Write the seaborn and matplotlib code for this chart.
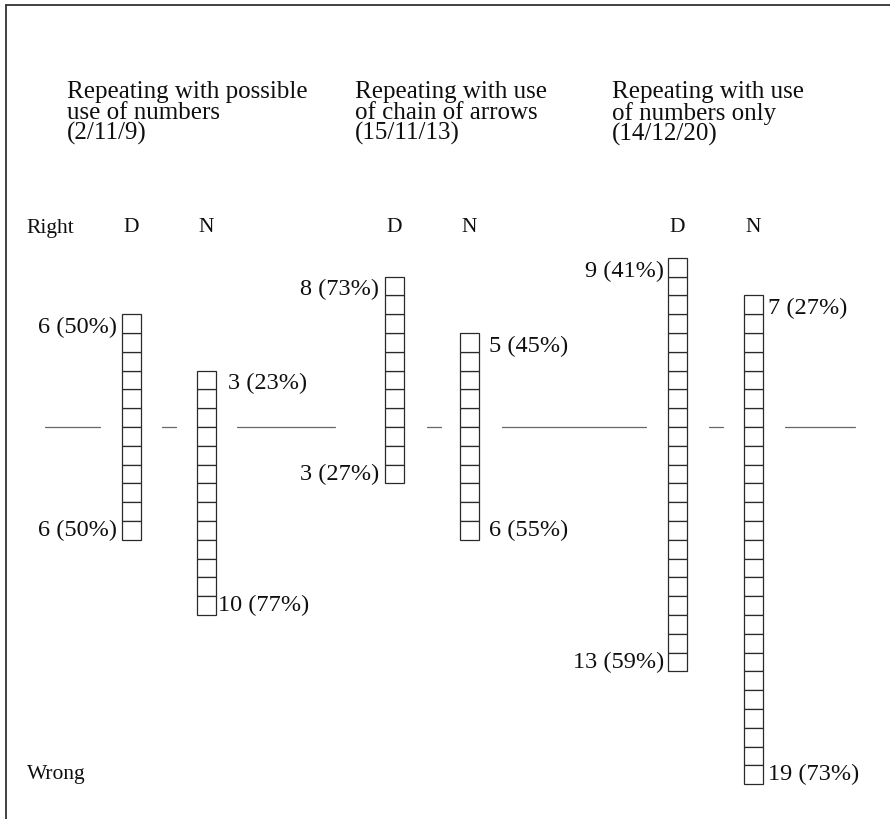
import numpy as np
import pandas as pd
import matplotlib
matplotlib.use("Agg")
import matplotlib.pyplot as plt
import seaborn as sns

# Task groups and the counts of right / wrong answers for the D and N groups
tasks = [
    "Repeating with possible\nuse of numbers\n(2/11/9)",
    "Repeating with use\nof chain of arrows\n(15/11/13)",
    "Repeating with use\nof numbers only\n(14/12/20)",
]
groups = ["D", "N"]
right_counts = [6, 3, 8, 5, 9, 7]
wrong_counts = [6, 10, 3, 6, 13, 19]

sns.set_theme(style="white")
plt.rcParams["font.family"] = ["Liberation Serif", "DejaVu Serif"]
plt.rcParams["text.color"] = "#0f0f0f"

W, H = 890, 819
UNIT = 18.8          # pixel height of one square
BASE = 427           # pixel row of the right/wrong divider
col_x = [131, 206.5, 394.5, 469.5, 677.5, 753.5]
title_x = [67, 355, 612]
sq_w = 19
# horizontal gaps between a column and its top / bottom label
label_gap = [(4, 4), (12, 2), (6, 6), (10, 10), (4, 4), (5, 5)]
# pieces of the right/wrong divider line
divider = [(45, 100), (162, 176), (237, 335), (427, 441),
           (502, 646), (709, 723), (785, 855)]

fig = plt.figure(figsize=(W / 100, H / 100), dpi=100)
ax = fig.add_axes([0, 0, 1, 1])
ax.set_xlim(0, W)
ax.set_ylim(-(H - BASE) / UNIT, BASE / UNIT)
ax.axis("off")


def py(ypix):
    return (BASE - ypix) / UNIT


# long-form table: one row per square
rows = []
for i, (r, w) in enumerate(zip(right_counts, wrong_counts)):
    for k in range(r):
        rows.append({"col": i, "x": col_x[i], "bottom": k, "kind": "Right"})
    for k in range(w):
        rows.append({"col": i, "x": col_x[i], "bottom": -k - 1, "kind": "Wrong"})
squares = pd.DataFrame(rows)

ax.bar(squares["x"], 1, width=sq_w, bottom=squares["bottom"],
       facecolor="white", edgecolor="#2a2a2a", linewidth=0.9)

fs_val = 17.5
fs_head = 15.5
# value labels: D labels to the left, N labels to the right
for i, (r, w) in enumerate(zip(right_counts, wrong_counts)):
    tot = r + w
    pr = int(100 * r / tot + 0.5)
    pw = int(100 * w / tot + 0.5)
    gt, gb = label_gap[i]
    if groups[i % 2] == "D":
        xt, xb, ha = col_x[i] - sq_w / 2 - gt, col_x[i] - sq_w / 2 - gb, "right"
    else:
        xt, xb, ha = col_x[i] + sq_w / 2 + gt, col_x[i] + sq_w / 2 + gb, "left"
    ax.text(xt, r - 0.7, f"{r} ({pr}%)", ha=ha, va="center", fontsize=fs_val)
    ax.text(xb, -w + 0.5, f"{w} ({pw}%)", ha=ha, va="center", fontsize=fs_val)
    ax.text(col_x[i], py(228), groups[i % 2], ha="center", va="center",
            fontsize=fs_head)

for a, b in divider:
    ax.plot([a, b], [0, 0], color="#666666", linewidth=0.9)

for t, x in zip(tasks, title_x):
    ax.text(x, py(81), t, ha="left", va="top", fontsize=18, linespacing=0.92)

ax.text(26, py(228), "Right", ha="left", va="center", fontsize=fs_head)
ax.text(27, py(774), "Wrong", ha="left", va="center", fontsize=fs_head)

# frame along the top and left edges
ax.plot([6, W], [py(5), py(5)], color="#333333", linewidth=1.3, clip_on=False)
ax.plot([6, 6], [py(5), py(H)], color="#333333", linewidth=1.3, clip_on=False)

fig.savefig("out.png", dpi=100)
